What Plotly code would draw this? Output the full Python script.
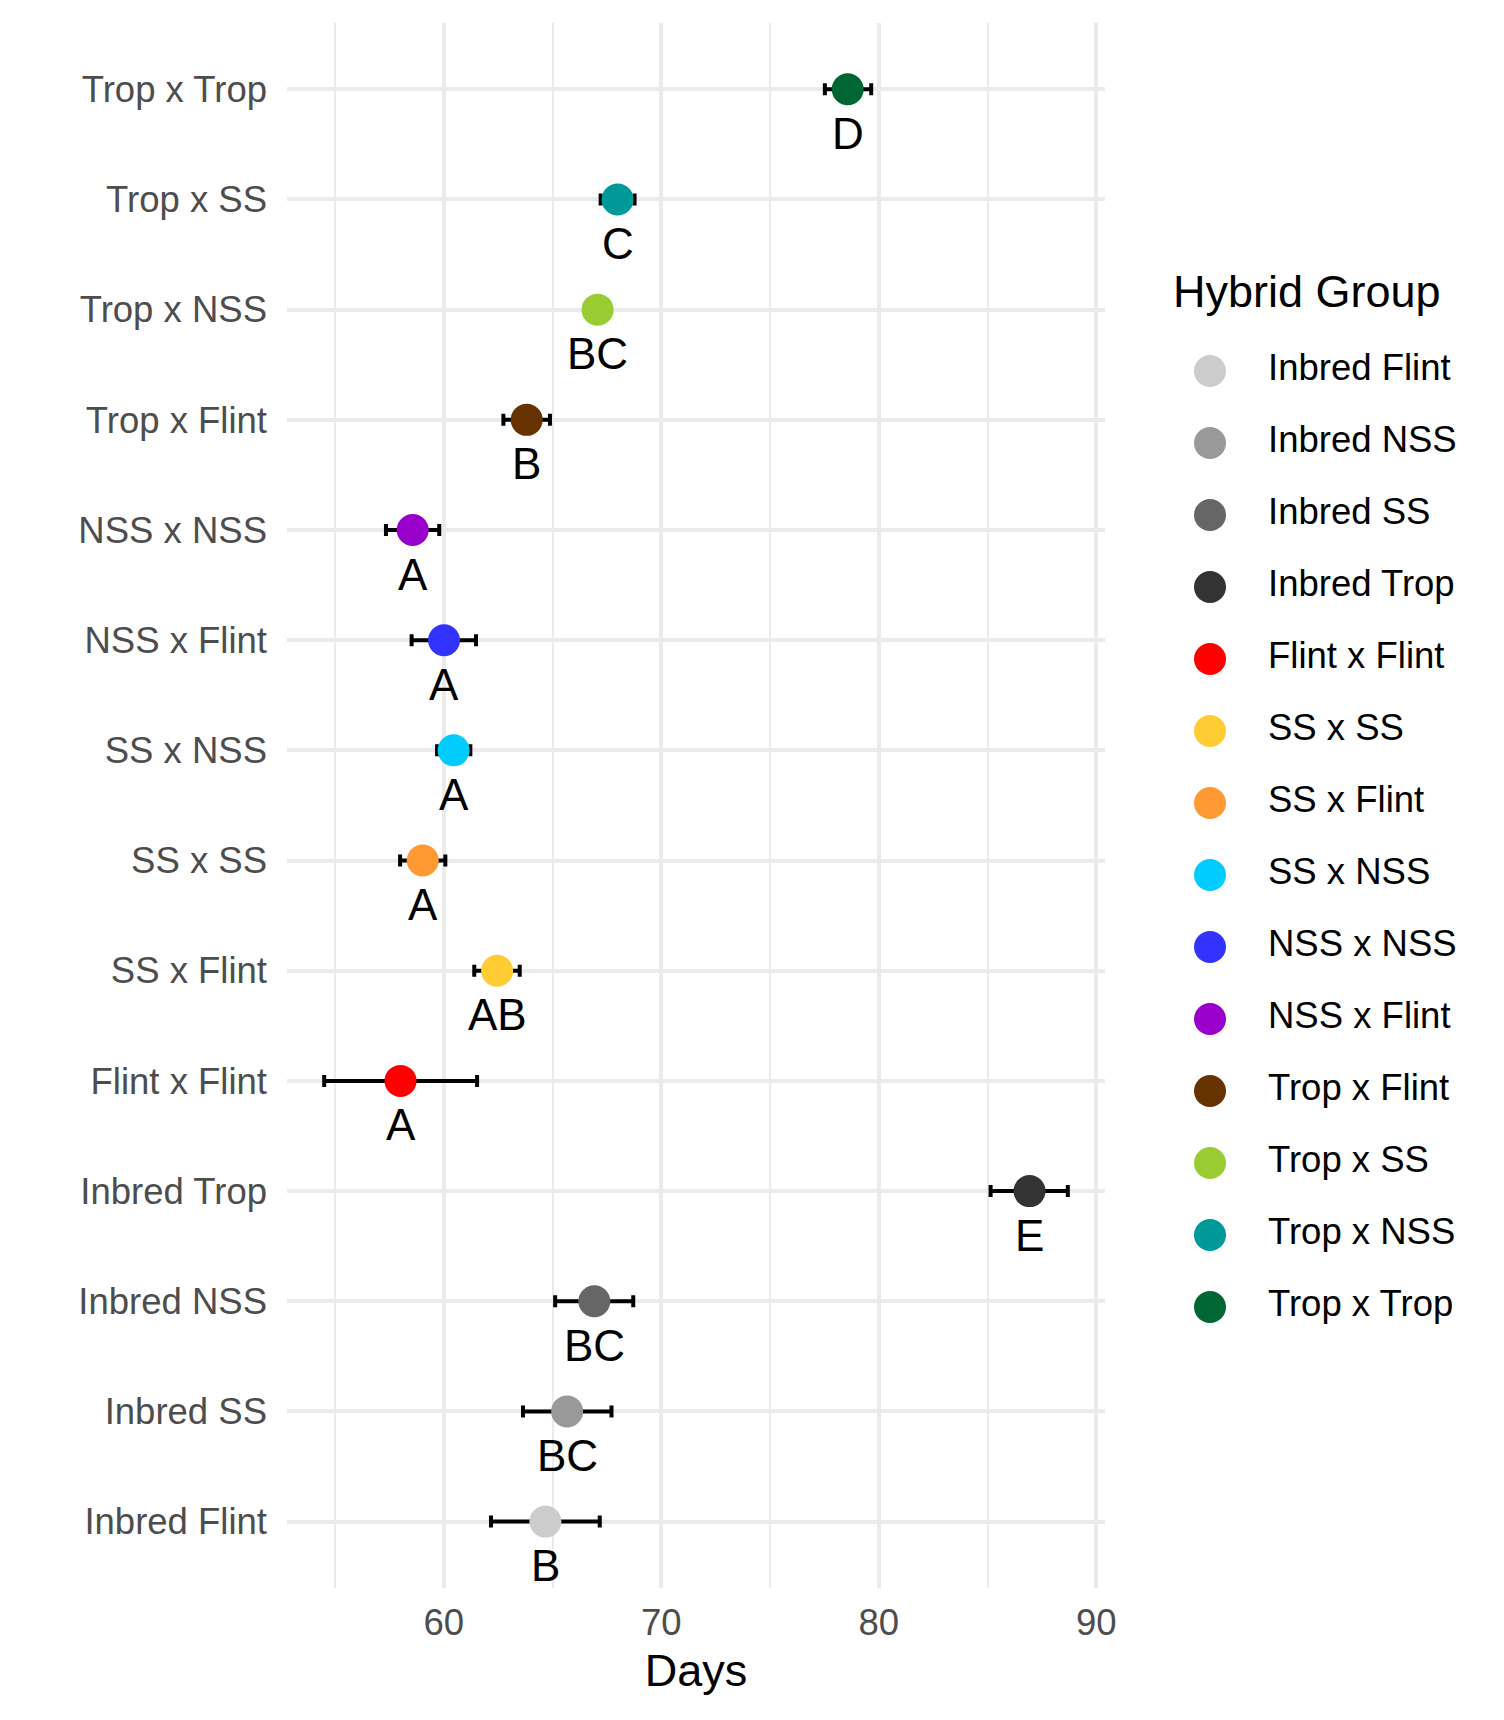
import plotly.graph_objects as go

# ---- data (bottom row to top row) ----
row_labels = ["Inbred Flint", "Inbred SS", "Inbred NSS", "Inbred Trop", "Flint x Flint",
              "SS x Flint", "SS x SS", "SS x NSS", "NSS x Flint", "NSS x NSS",
              "Trop x Flint", "Trop x NSS", "Trop x SS", "Trop x Trop"]
groups = ["Inbred Flint", "Inbred NSS", "Inbred SS", "Inbred Trop", "Flint x Flint",
          "SS x SS", "SS x Flint", "SS x NSS", "NSS x NSS", "NSS x Flint",
          "Trop x Flint", "Trop x SS", "Trop x NSS", "Trop x Trop"]
group_colors = ["#CCCCCC", "#999999", "#666666", "#333333", "#FF0000",
                "#FFCC33", "#FF9933", "#00CCFF", "#3333FF", "#9900CC",
                "#663300", "#99CC33", "#009999", "#006633"]
mean_days = [64.67, 65.67, 66.92, 86.93, 58.01, 62.45, 59.03, 60.45, 60.01, 58.57,
             63.81, 67.07, 67.99, 78.57]
lower_days = [62.17, 63.64, 65.12, 85.14, 54.50, 61.40, 57.99, 59.69, 58.52, 57.34,
              62.74, 66.55, 67.21, 77.52]
upper_days = [67.17, 67.71, 68.71, 88.69, 61.53, 63.49, 60.07, 61.22, 61.48, 59.79,
              64.88, 67.60, 68.77, 79.65]
letters = ["B", "BC", "BC", "E", "A", "AB", "A", "A", "A", "A", "B", "BC", "C", "D"]
x_ticks = [60, 70, 80, 90]

FONT = "Liberation Sans, Arial, Helvetica, sans-serif"
W, H = 1504, 1720
WX = 1492  # effective horizontal basis observed in the rendered page
GRID = "#EBEBEB"

# panel placement in px
pl, pr, pt, pb = 287, 1105, 23.2, 1587.7

fig = go.Figure()

err_plus = [u - m for u, m in zip(upper_days, mean_days)]
err_minus = [m - l for m, l in zip(mean_days, lower_days)]

fig.add_trace(go.Scatter(
    x=mean_days, y=row_labels, mode="markers",
    marker=dict(size=32, color=group_colors, line=dict(width=0)),
    error_x=dict(type="data", symmetric=False, array=err_plus, arrayminus=err_minus,
                 color="black", thickness=4, width=6),
    showlegend=False, hoverinfo="x+y",
    xaxis="x", yaxis="y",
))

annotations = []
for m, r, t in zip(mean_days, row_labels, letters):
    annotations.append(dict(x=m, y=r, xref="x", yref="y", text=t, showarrow=False,
                            yshift=-44, xanchor="center", yanchor="middle",
                            font=dict(family=FONT, size=44, color="black")))

# ---- manual legend (large dots like the reference) ----
leg_x0 = 1150
fig.add_trace(go.Scatter(
    x=[1210 - leg_x0] * len(groups), y=groups, mode="markers",
    marker=dict(size=32, color=group_colors, line=dict(width=0)),
    showlegend=False, hoverinfo="skip", xaxis="x2", yaxis="y2",
))
fig.add_trace(go.Scatter(
    x=[1268 - leg_x0] * len(groups), y=groups, mode="text", text=groups,
    textposition="middle right",
    textfont=dict(family=FONT, size=36.5, color="black"),
    showlegend=False, hoverinfo="skip", xaxis="x2", yaxis="y2",
))
annotations.append(dict(x=1171 / WX, y=1 - 291 / H, xref="paper", yref="paper",
                        text="Hybrid Group", showarrow=False, xanchor="left",
                        yanchor="middle", font=dict(family=FONT, size=45, color="black")))

leg_top, leg_bot = 371 - 36, 1307 + 36

fig.update_layout(
    width=W, height=H, autosize=False,
    margin=dict(l=0, r=0, t=0, b=0),
    paper_bgcolor="white", plot_bgcolor="white",
    font=dict(family=FONT, color="#4D4D4D"),
    annotations=annotations,
    xaxis=dict(
        domain=[pl / WX, pr / WX], range=[52.79, 90.40],
        tickvals=x_ticks, ticktext=[str(v) for v in x_ticks],
        showgrid=True, gridcolor=GRID, gridwidth=4,
        minor=dict(tickvals=[55, 65, 75, 85], showgrid=True, gridcolor=GRID, gridwidth=2.2),
        zeroline=False, showline=False, ticks="",
        tickfont=dict(family=FONT, size=36.5, color="#4D4D4D"),
        ticklabelstandoff=10,
        title=dict(text="Days", font=dict(family=FONT, size=45, color="black"), standoff=12),
        anchor="y",
    ),
    yaxis=dict(
        domain=[1 - pb / H, 1 - pt / H],
        type="category", categoryorder="array", categoryarray=row_labels,
        range=[-0.6, len(row_labels) - 1 + 0.6],
        showgrid=True, gridcolor=GRID, gridwidth=4,
        zeroline=False, showline=False, ticks="",
        tickfont=dict(family=FONT, size=36.5, color="#4D4D4D"),
        ticklabelstandoff=19,
        anchor="x",
    ),
    xaxis2=dict(domain=[leg_x0 / WX, 1], range=[0, WX - leg_x0], visible=False,
                anchor="y2", fixedrange=True),
    yaxis2=dict(domain=[1 - leg_bot / H, 1 - leg_top / H], type="category",
                categoryorder="array", categoryarray=groups,
                range=[len(groups) - 0.5, -0.5], visible=False, anchor="x2",
                fixedrange=True),
)

fig.write_html("out.html", config={"responsive": False})
